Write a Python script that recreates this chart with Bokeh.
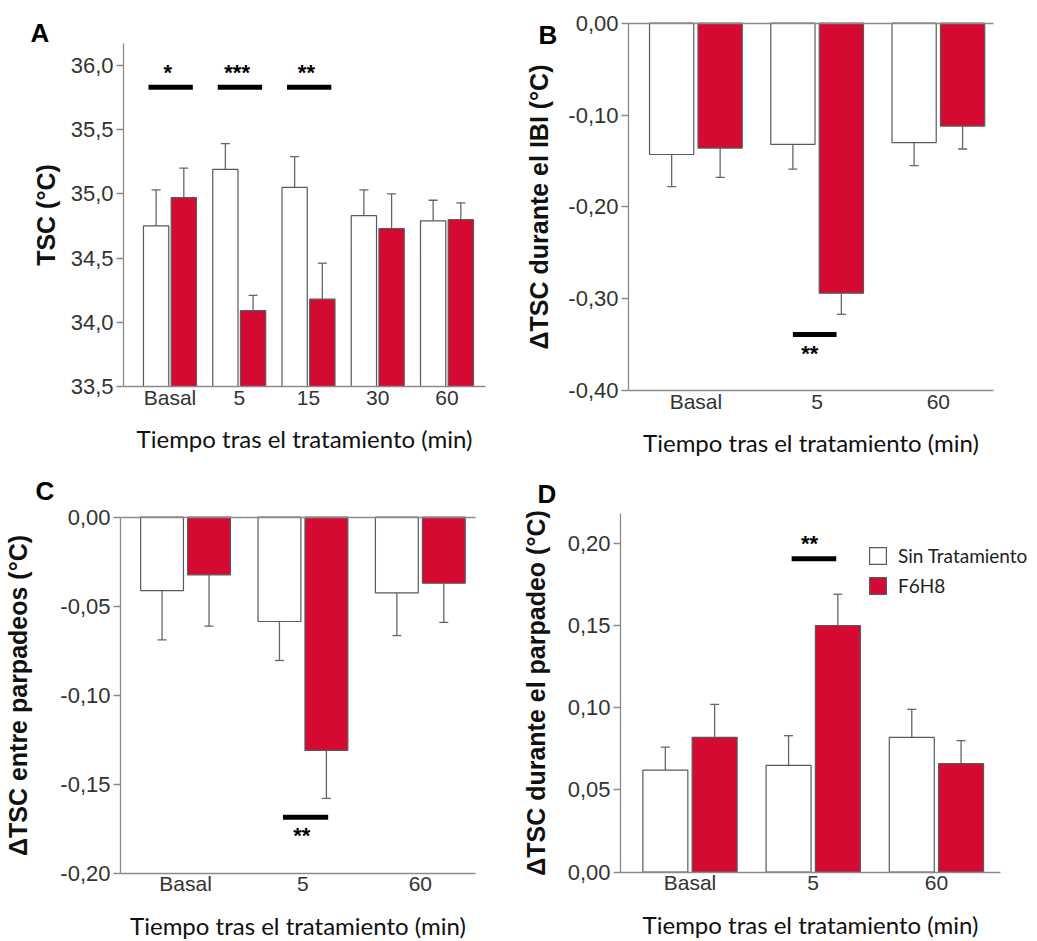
import numpy as np
from bokeh.plotting import figure
from bokeh.models import (ColumnDataSource, Whisker, TeeHead, FixedTicker,
                          CustomJSTickFormatter, LinearAxis, Range1d, Label,
                          Legend, LegendItem)
from bokeh.layouts import column, row
from bokeh.embed import file_html
from bokeh.resources import INLINE
from bokeh.core.properties import value

# ---------------- data ----------------
series_names = ["Sin Tratamiento", "F6H8"]
xlabel = "Tiempo tras el tratamiento (min)"

# Panel A: TSC (°C)
a_cats = ["Basal", "5", "15", "30", "60"]
a_sin = [34.75, 35.19, 35.05, 34.83, 34.79]
a_sin_sem = [0.28, 0.20, 0.24, 0.20, 0.16]
a_f6 = [34.97, 34.09, 34.18, 34.73, 34.80]
a_f6_sem = [0.23, 0.12, 0.28, 0.27, 0.13]
a_ticks = [33.5, 34.0, 34.5, 35.0, 35.5, 36.0]
a_sig_group = [0, 1, 2]
a_sig_level = [35.83, 35.83, 35.83]
a_sig_star_level = [35.945, 35.945, 35.945]
a_sig_text = ["*", "***", "**"]

# Panel B: ΔTSC durante el IBI (°C)
b_cats = ["Basal", "5", "60"]
b_sin = [-0.143, -0.132, -0.130]
b_sin_sem = [0.035, 0.027, 0.025]
b_f6 = [-0.136, -0.294, -0.112]
b_f6_sem = [0.032, 0.023, 0.025]
b_ticks = [-0.40, -0.30, -0.20, -0.10, 0.0]
b_sig_group = [1]
b_sig_level = [-0.339]
b_sig_star_level = [-0.360]
b_sig_text = ["**"]

# Panel C: ΔTSC entre parpadeos (°C)
c_cats = ["Basal", "5", "60"]
c_sin = [-0.0412, -0.0586, -0.0425]
c_sin_sem = [0.0277, 0.0219, 0.0240]
c_f6 = [-0.0324, -0.1310, -0.0371]
c_f6_sem = [0.0288, 0.0270, 0.0220]
c_ticks = [-0.20, -0.15, -0.10, -0.05, 0.0]
c_sig_group = [1]
c_sig_level = [-0.1685]
c_sig_star_level = [-0.179]
c_sig_text = ["**"]

# Panel D: ΔTSC durante el parpadeo (°C)
d_cats = ["Basal", "5", "60"]
d_sin = [0.062, 0.065, 0.082]
d_sin_sem = [0.014, 0.018, 0.017]
d_f6 = [0.082, 0.150, 0.066]
d_f6_sem = [0.020, 0.019, 0.014]
d_ticks = [0.0, 0.05, 0.10, 0.15, 0.20]
d_sig_group = [1]
d_sig_level = [0.1905]
d_sig_star_level = [0.1998]
d_sig_text = ["**"]

# ---------------- style ----------------
RED = "#D40A32"
EDGE = "#5a5a5a"
AXIS = "#8a8a8a"
TICK_FONT = "Liberation Sans"
LABEL_FONT = "Lato"
OFF = 0.2
BAR_W = 0.365


def full_range(v0, v1, p0, p1, total, flip=False):
    """Extend the axis window [v0, v1] (drawn between pixels p0..p1)
    to the whole canvas of size `total`."""
    upp = (v1 - v0) / (p1 - p0)
    if not flip:
        return v0 - p0 * upp, v1 + (total - p1) * upp
    # vertical: p0 = top pixel (for v1), p1 = bottom pixel (for v0)
    return v0 - (total - p1) * upp, v1 + p0 * upp


def make_panel(W, H, win, box, cats, sin, sin_sem, f6, f6_sem, base, ticks,
               decimals, ylabel, letter, letter_pos, sig_group, sig_level,
               sig_star, sig_text, sig_span, top_line=False, legend=None,
               ylabel_standoff=14, down=False):
    x0, x1, y0, y1 = win
    l, r, t, b = box
    xr = full_range(x0, x1, l, r, W)
    yr = full_range(y0, y1, t, b, H, flip=True)
    p = figure(width=W, height=H, output_backend="svg", toolbar_location=None,
               x_range=Range1d(*xr), y_range=Range1d(*yr), min_border=0)
    p.title.visible = False
    p.outline_line_color = None
    p.grid.grid_line_color = None
    p.background_fill_color = "white"
    p.border_fill_color = "white"

    idx = np.arange(len(cats))
    xs_sin = idx - OFF
    xs_f6 = idx + OFF
    src = ColumnDataSource(dict(x_sin=xs_sin, x_f6=xs_f6, sin=sin, f6=f6))
    r_sin = p.vbar(x="x_sin", top="sin", bottom=base, width=BAR_W, source=src,
                   fill_color="white", line_color=EDGE, line_width=1.2)
    r_f6 = p.vbar(x="x_f6", top="f6", bottom=base, width=BAR_W, source=src,
                  fill_color=RED, line_color=EDGE, line_width=1.2)

    for xs, vals, sems in ((xs_sin, sin, sin_sem), (xs_f6, f6, f6_sem)):
        vals = np.array(vals)
        sems = np.array(sems)
        head = TeeHead(size=9, line_color="#666666", line_width=1.3)
        if down:
            wsrc = ColumnDataSource(dict(base=xs, lower=vals - sems, upper=vals))
            w = Whisker(base="base", lower="lower", upper="upper", source=wsrc,
                        dimension="height", line_color="#666666", line_width=1.3,
                        lower_head=head, upper_head=None)
        else:
            wsrc = ColumnDataSource(dict(base=xs, lower=vals, upper=vals + sems))
            w = Whisker(base="base", lower="lower", upper="upper", source=wsrc,
                        dimension="height", line_color="#666666", line_width=1.3,
                        upper_head=head, lower_head=None)
        p.add_layout(w)

    # significance bars and stars
    g = np.array(sig_group, dtype=float)
    p.segment(x0=g + sig_span[0], x1=g + sig_span[1], y0=sig_level,
              y1=sig_level, line_color="black", line_width=5)
    p.text(x=g + sig_span[2], y=sig_star, text=sig_text,
           text_font=value(TICK_FONT), text_font_size="22px",
           text_font_style="bold", text_align="center",
           text_baseline="middle", text_color="black")

    # x axis (bottom of the axis window)
    xa = p.xaxis[0]
    xa.fixed_location = y0
    xa.bounds = (x0, x1)
    xa.ticker = FixedTicker(ticks=list(idx))
    xa.formatter = CustomJSTickFormatter(args=dict(labels=cats),
                                         code="return labels[Math.round(tick)] || '';")
    xa.major_tick_line_color = None
    xa.minor_tick_line_color = None
    xa.major_tick_out = 0
    xa.major_tick_in = 0
    xa.axis_line_color = AXIS
    xa.axis_line_width = 1.3
    xa.major_label_text_font = TICK_FONT
    xa.major_label_text_font_size = "21px"
    xa.major_label_text_color = "#333333"
    xa.major_label_standoff = -1
    xa.axis_label = xlabel
    xa.axis_label_text_font = LABEL_FONT
    xa.axis_label_text_font_size = "24px"
    xa.axis_label_text_font_style = "normal"
    xa.axis_label_text_color = "#111111"
    xa.axis_label_standoff = 12

    if top_line:
        ta = LinearAxis(fixed_location=0.0, bounds=(x0, x1),
                        ticker=FixedTicker(ticks=[]),
                        major_tick_line_color=None, minor_tick_line_color=None,
                        major_label_text_font_size="0px",
                        axis_line_color=AXIS, axis_line_width=1.3)
        p.add_layout(ta, "above")

    ya = p.yaxis[0]
    ya.fixed_location = x0
    ya.bounds = (y0, y1)
    ya.ticker = FixedTicker(ticks=ticks)
    ya.formatter = CustomJSTickFormatter(
        code="return tick.toFixed(%d).replace('.', ',');" % decimals)
    ya.minor_tick_line_color = None
    ya.major_tick_in = 0
    ya.major_tick_out = 7
    ya.major_tick_line_color = AXIS
    ya.major_tick_line_width = 1.3
    ya.axis_line_color = AXIS
    ya.axis_line_width = 1.3
    ya.major_label_text_font = TICK_FONT
    ya.major_label_text_font_size = "22px"
    ya.major_label_text_color = "#333333"
    ya.major_label_standoff = 3
    ya.axis_label = ylabel
    ya.axis_label_text_font = TICK_FONT
    ya.axis_label_text_font_size = "25px"
    ya.axis_label_text_font_style = "bold"
    ya.axis_label_text_color = "#111111"
    ya.axis_label_standoff = ylabel_standoff

    p.add_layout(Label(x=letter_pos[0], y=letter_pos[1], x_units="screen",
                       y_units="screen", text=letter, text_font=TICK_FONT,
                       text_font_size="26px", text_font_style="bold",
                       text_baseline="top", text_align="left",
                       text_color="black"))

    if legend is not None:
        lg = Legend(items=[LegendItem(label=series_names[0], renderers=[r_sin]),
                           LegendItem(label=series_names[1], renderers=[r_f6])],
                    location=legend, glyph_width=21, glyph_height=21,
                    label_text_font=LABEL_FONT, label_text_font_size="19px",
                    label_text_color="#222222", label_standoff=10,
                    spacing=7, padding=0, margin=0, border_line_color=None,
                    background_fill_alpha=0)
        p.add_layout(lg)
    return p


pA = make_panel(518, 470, (-0.671, 4.556, 33.5, 36.17), (123, 485, 43, 386),
                a_cats, a_sin, a_sin_sem, a_f6, a_f6_sem, a_ticks[0], a_ticks, 1,
                "TSC (°C)", "A", (30, 453),
                a_sig_group, a_sig_level, a_sig_star_level, a_sig_text,
                (-0.31, 0.33, -0.03), ylabel_standoff=8)

pB = make_panel(519, 470, (-0.556, 2.455, -0.40, 0.0), (110, 475, 22.7, 390),
                b_cats, b_sin, b_sin_sem, b_f6, b_f6_sem, 0.0, b_ticks, 2,
                "ΔTSC durante el IBI (°C)", "B", (20, 451),
                b_sig_group, b_sig_level, b_sig_star_level, b_sig_text,
                (-0.20, 0.16, -0.06), top_line=True, ylabel_standoff=12,
                down=True)

pC = make_panel(518, 471, (-0.554, 2.47, -0.20, 0.0), (120, 475, 46.7, 402.7),
                c_cats, c_sin, c_sin_sem, c_f6, c_f6_sem, 0.0, c_ticks, 2,
                "ΔTSC entre parpadeos (°C)", "C", (35, 466),
                c_sig_group, c_sig_level, c_sig_star_level, c_sig_text,
                (-0.17, 0.215, -0.01), top_line=True, ylabel_standoff=25,
                down=True)

pD = make_panel(519, 471, (-0.564, 2.52, 0.0, 0.2179), (102, 482, 43.3, 401.7),
                d_cats, d_sin, d_sin_sem, d_f6, d_f6_sem, 0.0, d_ticks, 2,
                "ΔTSC durante el parpadeo (°C)", "D", (19, 463),
                d_sig_group, d_sig_level, d_sig_star_level, d_sig_text,
                (-0.175, 0.187, -0.03), legend=(349, 344), ylabel_standoff=15)

layout = column(row(pA, pB), row(pC, pD))
open("out.html", "w").write(file_html(layout, INLINE))
